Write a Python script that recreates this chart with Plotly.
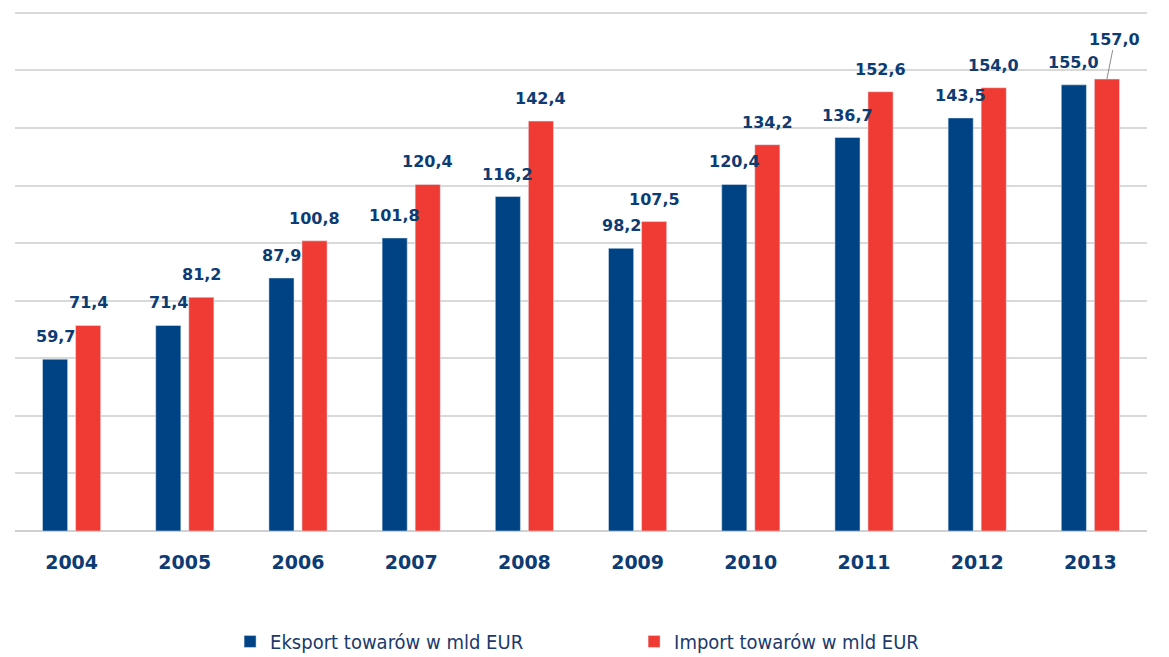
import plotly.graph_objects as go

years = ["2004", "2005", "2006", "2007", "2008", "2009", "2010", "2011", "2012", "2013"]
eksport = [59.7, 71.4, 87.9, 101.8, 116.2, 98.2, 120.4, 136.7, 143.5, 155.0]
importv = [71.4, 81.2, 100.8, 120.4, 142.4, 107.5, 134.2, 152.6, 154.0, 157.0]
name_exp = "Eksport towarów w mld EUR"
name_imp = "Import towarów w mld EUR"

BLUE = "#004385"
RED = "#EF3B33"
TXT = "#0D3B73"

def fmt(v):
    return f"{v:.1f}".replace(".", ",")

fig = go.Figure()
fig.add_trace(go.Bar(x=years, y=eksport, name=name_exp, marker_color=BLUE))
fig.add_trace(go.Bar(x=years, y=importv, name=name_imp, marker_color=RED))

lab_font = dict(family="DejaVu Sans", size=16, color=TXT, weight="bold")
ann = []
for i, yr in enumerate(years):
    # x given as the category index of this year on the category axis
    ann.append(dict(x=i, y=eksport[i], xref="x", yref="y", text=fmt(eksport[i]),
                    showarrow=False, xshift=-16.5, yshift=11, yanchor="bottom",
                    font=lab_font))
    if i == len(years) - 1:
        ann.append(dict(x=i, y=importv[i], xref="x", yref="y", text=fmt(importv[i]),
                        showarrow=True, arrowhead=0, arrowwidth=1, arrowcolor="#8C8C8C",
                        ax=8, ay=-40, xshift=16.5, font=lab_font))
    else:
        ann.append(dict(x=i, y=importv[i], xref="x", yref="y", text=fmt(importv[i]),
                        showarrow=False, xshift=16.5, yshift=11, yanchor="bottom",
                        font=lab_font))

fig.update_layout(
    width=1169, height=657,
    margin=dict(l=7, r=30, t=2, b=134, autoexpand=False),
    paper_bgcolor="white", plot_bgcolor="white",
    barmode="group", bargap=0.416, bargroupgap=0.24,
    annotations=ann,
    showlegend=True,
    legend=dict(orientation="h", x=0.19, y=-0.212, xanchor="left", yanchor="middle",
                entrywidth=359, entrywidthmode="pixels",
                font=dict(family="DejaVu Sans Condensed, DejaVu Sans", size=20, color="#1B3A6B")),
    xaxis=dict(type="category", range=[-0.5, 9.5], showgrid=False, showline=False,
               ticks="outside", ticklen=14, tickcolor="rgba(0,0,0,0)",
               tickfont=dict(family="DejaVu Sans", size=19, color=TXT, weight="bold")),
    yaxis=dict(range=[0, 181], dtick=20, showticklabels=False, showgrid=True,
               gridcolor="#D9D9D9", gridwidth=2, zeroline=True,
               zerolinecolor="#D0D0D0", zerolinewidth=2),
)

fig.write_html("out.html")
